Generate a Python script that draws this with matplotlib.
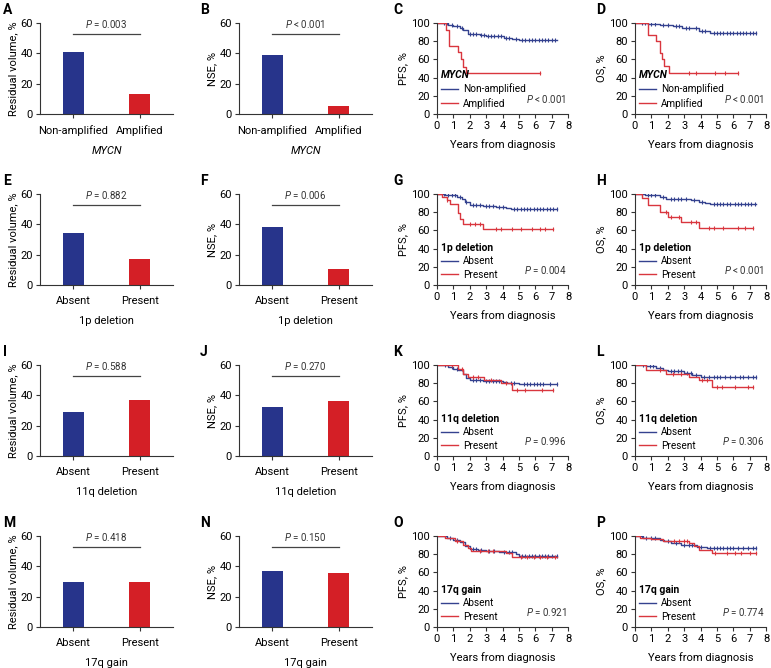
import numpy as np
import matplotlib
matplotlib.use('Agg')
import matplotlib.pyplot as plt
from matplotlib.lines import Line2D

plt.rcParams['font.family'] = ['Roboto', 'DejaVu Sans']
plt.rcParams['font.size'] = 8
plt.rcParams['mathtext.fontset'] = 'custom'
plt.rcParams['mathtext.rm'] = 'Roboto'
plt.rcParams['mathtext.it'] = 'Roboto:italic'

BLUE = '#27348B'
RED = '#D41F26'
KM_BLUE = '#34428F'
KM_RED = '#D9363E'

## bar chart data
bar_groups = ['MYCN', '1p deletion', '11q deletion', '17q gain']
bar_cats = [['Non-amplified', 'Amplified'], ['Absent', 'Present'],
            ['Absent', 'Present'], ['Absent', 'Present']]
resid = [[41, 13], [34, 17], [29, 37], [30, 30]]
resid_p = ['= 0.003', '= 0.882', '= 0.588', '= 0.418']
nse = [[39, 5], [38.5, 10.5], [32, 36.5], [37, 35.5]]
nse_p = ['< 0.001', '= 0.006', '= 0.270', '= 0.150']

## Kaplan-Meier data (event times, survival after event, end of follow-up, censor times)
# MYCN PFS
C_blue_t = [0.7, 1.0, 1.4, 1.6, 1.9, 2.6, 3.0, 4.1, 4.6, 5.0]
C_blue_s = [98, 97, 95, 92, 88, 87, 86, 84, 82, 81]
C_blue_c = [0.4, 0.6, 0.9, 1.2, 1.5, 2.0, 2.2, 2.4, 2.7, 2.9, 3.1, 3.3, 3.5, 3.7, 3.9,
            4.2, 4.4, 4.8, 5.2, 5.4, 5.6, 5.8, 6.0, 6.2, 6.4, 6.6, 6.8, 7.0, 7.2]
C_red_t = [0.55, 0.75, 1.3, 1.45, 1.6, 1.8]
C_red_s = [92, 75, 68, 60, 52, 45]
C_red_c = [6.3]
# MYCN OS
D_blue_t = [0.8, 1.5, 2.3, 2.9, 3.5, 3.9, 4.6]
D_blue_s = [99, 98, 97, 95, 94, 91, 89]
D_blue_c = [0.4, 0.6, 1.0, 1.2, 1.7, 2.0, 2.5, 2.7, 3.1, 3.3, 3.7, 4.1, 4.3, 4.8, 5.0,
            5.2, 5.4, 5.6, 5.8, 6.0, 6.2, 6.4, 6.6, 6.8, 7.0, 7.2, 7.4]
D_red_t = [0.8, 1.3, 1.5, 1.65, 1.8, 2.1]
D_red_s = [87, 80, 67, 60, 53, 45]
D_red_c = [3.3, 3.7, 4.9, 5.5, 6.3]
# 1p PFS
G_blue_t = [0.5, 1.2, 1.5, 1.7, 2.0, 2.8, 3.6, 4.2, 4.5]
G_blue_s = [99, 97, 95, 91, 88, 87, 86, 85, 83]
G_blue_c = [0.4, 0.7, 0.9, 1.1, 1.4, 1.8, 2.2, 2.4, 2.6, 3.0, 3.2, 3.4, 3.8, 4.0, 4.7,
            4.9, 5.1, 5.3, 5.5, 5.7, 5.9, 6.1, 6.3, 6.5, 6.7, 6.9, 7.1, 7.3]
G_red_t = [0.3, 0.6, 0.8, 1.3, 1.4, 1.6, 2.8]
G_red_s = [97, 93, 89, 79, 72, 67, 61]
G_red_c = [0.6, 2.0, 2.3, 2.6, 3.6, 3.9, 4.6, 5.1, 5.8, 6.3, 6.6, 7.1]
# 1p OS
H_blue_t = [0.6, 1.5, 1.9, 2.9, 3.4, 3.9, 4.3, 4.6]
H_blue_s = [99, 97, 95, 94, 93, 91, 90, 89]
H_blue_c = [0.4, 0.8, 1.0, 1.2, 1.7, 2.2, 2.4, 2.6, 2.8, 3.1, 3.6, 4.1, 4.8, 5.0, 5.2,
            5.4, 5.6, 5.8, 6.1, 6.3, 6.5, 6.7, 6.9, 7.1, 7.3]
H_red_t = [0.4, 0.8, 1.5, 2.0, 2.8, 3.9]
H_red_s = [96, 88, 80, 75, 69, 63]
H_red_c = [1.9, 2.2, 2.7, 3.4, 3.7, 4.5, 4.8, 5.4, 6.3, 6.7, 7.2]
# 11q PFS
K_blue_t = [0.7, 1.0, 1.3, 1.6, 1.8, 2.0, 2.8, 4.0, 4.3, 5.0]
K_blue_s = [98, 96, 94, 90, 86, 84, 82, 81, 80, 79]
K_blue_c = [0.5, 0.9, 1.2, 2.2, 2.4, 2.6, 3.0, 3.2, 3.4, 3.6, 3.8, 4.5, 4.7, 5.3, 5.5,
            5.7, 5.9, 6.1, 6.3, 6.5, 6.9, 7.3]
K_red_t = [1.3, 1.6, 1.9, 2.9, 3.9, 4.6]
K_red_s = [96, 90, 87, 84, 80, 73]
K_red_c = [0.9, 1.5, 2.2, 2.5, 3.3, 4.2, 4.9, 5.4, 6.4, 7.1]
# 11q OS
L_blue_t = [0.7, 1.3, 1.7, 2.0, 3.0, 3.5, 4.0]
L_blue_s = [99, 97, 95, 93, 91, 89, 87]
L_blue_c = [0.5, 0.9, 1.1, 1.5, 2.2, 2.4, 2.6, 2.8, 3.2, 3.4, 3.7, 4.2, 4.5, 4.8, 5.0,
            5.2, 5.5, 5.8, 6.1, 6.4, 6.6, 6.9, 7.2, 7.4]
L_red_t = [0.7, 1.2, 1.9, 3.3, 3.9, 4.7]
L_red_s = [95, 94, 90, 87, 83, 76]
L_red_c = [1.5, 2.3, 2.8, 4.1, 4.4, 5.0, 5.3, 6.1, 6.9, 7.2]
# 17q PFS
O_blue_t = [0.6, 1.0, 1.4, 1.7, 2.0, 2.5, 3.0, 3.8, 4.8, 5.0]
O_blue_s = [98, 96, 93, 89, 86, 85, 83, 82, 80, 78]
O_blue_c = [0.5, 0.8, 1.2, 2.2, 2.4, 2.7, 3.2, 3.5, 4.1, 4.4, 4.6, 5.2, 5.4, 5.6, 5.8,
            6.0, 6.2, 6.4, 6.6, 6.8, 7.0, 7.3]
O_red_t = [0.5, 1.1, 1.6, 1.9, 2.1, 4.2, 4.6]
O_red_s = [98, 95, 90, 87, 84, 81, 77]
O_red_c = [1.2, 2.6, 3.1, 3.4, 5.1, 5.5, 5.9, 6.3, 6.7, 7.2]
# 17q OS
P_blue_t = [0.5, 1.5, 1.8, 2.2, 2.8, 3.8, 4.4]
P_blue_s = [98, 96, 94, 92, 90, 88, 87]
P_blue_c = [0.4, 0.7, 1.0, 1.2, 2.0, 2.5, 3.0, 3.3, 3.5, 4.0, 4.6, 4.8, 5.0, 5.2, 5.4,
            5.6, 5.8, 6.0, 6.3, 6.6, 6.9, 7.2, 7.4]
P_red_t = [0.3, 1.0, 1.7, 3.3, 3.6, 3.9, 4.7]
P_red_s = [98, 97, 95, 92, 89, 85, 81]
P_red_c = [2.4, 2.7, 3.0, 3.2, 4.9, 5.6, 6.1, 6.5, 7.0, 7.4]

km_panels = [
    ('C', 'PFS, %', 'MYCN', ['Non-amplified', 'Amplified'], '< 0.001',
     (C_blue_t, C_blue_s, 7.3, C_blue_c), (C_red_t, C_red_s, 6.3, C_red_c)),
    ('D', 'OS, %', 'MYCN', ['Non-amplified', 'Amplified'], '< 0.001',
     (D_blue_t, D_blue_s, 7.4, D_blue_c), (D_red_t, D_red_s, 6.3, D_red_c)),
    ('G', 'PFS, %', '1p deletion', ['Absent', 'Present'], '= 0.004',
     (G_blue_t, G_blue_s, 7.3, G_blue_c), (G_red_t, G_red_s, 7.1, G_red_c)),
    ('H', 'OS, %', '1p deletion', ['Absent', 'Present'], '< 0.001',
     (H_blue_t, H_blue_s, 7.4, H_blue_c), (H_red_t, H_red_s, 7.2, H_red_c)),
    ('K', 'PFS, %', '11q deletion', ['Absent', 'Present'], '= 0.996',
     (K_blue_t, K_blue_s, 7.3, K_blue_c), (K_red_t, K_red_s, 7.1, K_red_c)),
    ('L', 'OS, %', '11q deletion', ['Absent', 'Present'], '= 0.306',
     (L_blue_t, L_blue_s, 7.4, L_blue_c), (L_red_t, L_red_s, 7.2, L_red_c)),
    ('O', 'PFS, %', '17q gain', ['Absent', 'Present'], '= 0.921',
     (O_blue_t, O_blue_s, 7.3, O_blue_c), (O_red_t, O_red_s, 7.3, O_red_c)),
    ('P', 'OS, %', '17q gain', ['Absent', 'Present'], '= 0.774',
     (P_blue_t, P_blue_s, 7.4, P_blue_c), (P_red_t, P_red_s, 7.4, P_red_c)),
]

W, H = 771, 668
fig = plt.figure(figsize=(W / 100, H / 100), dpi=100)


def box(left, top, width, height):
    return fig.add_axes([left / W, 1 - (top + height) / H, width / W, height / H])


def style(ax):
    for s in ['top', 'right']:
        ax.spines[s].set_visible(False)
    for s in ['left', 'bottom']:
        ax.spines[s].set_linewidth(0.8)
        ax.spines[s].set_color('#333333')
    ax.tick_params(direction='out', length=3, width=0.8, color='#333333',
                   labelsize=8, pad=2)


def bar_panel(ax, vals, cats, group, ylab, p):
    style(ax)
    ax.tick_params(axis='x', pad=5)
    x = np.arange(len(cats))
    ax.bar(x, vals, width=0.32, color=[BLUE, RED])
    ax.set_xlim(-0.5, 1.5)
    ax.set_ylim(0, 60)
    ax.set_yticks([0, 20, 40, 60])
    ax.set_xticks(x)
    ax.set_xticklabels(cats)
    ax.plot(x, [53, 53], color='#444444', lw=0.9, clip_on=False)
    ax.text(0.5, 59.5, '$P$ ' + p, ha='center', va='center', fontsize=7, color='#333333')
    ax.set_xlabel(group, fontsize=8, labelpad=7,
                  style='italic' if group == 'MYCN' else 'normal')
    ax.set_ylabel(ylab, fontsize=8, labelpad=2)


def km(ax, t, s, end, cens, color):
    tt = np.r_[0, t, end]
    ss = np.r_[100, s, s[-1]]
    ax.step(tt, ss, where='post', color=color, lw=1.0)
    idx = np.searchsorted(tt, cens, side='right') - 1
    ax.plot(cens, ss[idx], ls='none', marker='|', ms=3.5, mew=0.8, color=color)


def km_panel(ax, ylab, title, labels, p, blue, red):
    style(ax)
    km(ax, *blue, KM_BLUE)
    km(ax, *red, KM_RED)
    ax.set_xlim(0, 8)
    ax.set_ylim(0, 100)
    ax.set_xticks(range(9))
    ax.set_yticks(range(0, 101, 20))
    ax.set_xlabel('Years from diagnosis', fontsize=8, labelpad=6)
    ax.set_ylabel(ylab, fontsize=8, labelpad=2)
    handles = [Line2D([], [], color=KM_BLUE, lw=1.0), Line2D([], [], color=KM_RED, lw=1.0)]
    leg = ax.legend(handles, labels, title=title, loc='lower left',
                    bbox_to_anchor=(0.03, 0.06), frameon=False, fontsize=7.2,
                    handlelength=1.7, handletextpad=0.5, labelspacing=0.35,
                    borderpad=0, borderaxespad=0, alignment='left')
    leg.get_title().set_fontweight('bold')
    leg.get_title().set_fontsize(7.5)
    if title == 'MYCN':
        leg.get_title().set_fontstyle('italic')
    ax.text(7.9, 16.5, '$P$ ' + p, ha='right', va='center', fontsize=7, color='#333333')


rows_top = [23, 194, 365, 536]
hgt = 91
bar_letters = [('A', 'B'), ('E', 'F'), ('I', 'J'), ('M', 'N')]
for i in range(4):
    top = rows_top[i]
    ax = box(40, top, 133, hgt)
    bar_panel(ax, resid[i], bar_cats[i], bar_groups[i], 'Residual volume, %', resid_p[i])
    ax = box(239, top, 133, hgt)
    bar_panel(ax, nse[i], bar_cats[i], bar_groups[i], 'NSE, %', nse_p[i])
    fig.text(3 / W, 1 - (top - 13) / H, bar_letters[i][0], fontsize=10, fontweight='bold', va='center')
    fig.text(200 / W, 1 - (top - 13) / H, bar_letters[i][1], fontsize=10, fontweight='bold', va='center')

for j, (letter, ylab, title, labels, p, blue, red) in enumerate(km_panels):
    i, k = divmod(j, 2)
    top = rows_top[i]
    left = 437 if k == 0 else 635
    ax = box(left, top, 131, hgt)
    km_panel(ax, ylab, title, labels, p, blue, red)
    fig.text((393 if k == 0 else 596) / W, 1 - (top - 13) / H, letter, fontsize=10,
             fontweight='bold', va='center')

fig.savefig('out.png', dpi=100)
